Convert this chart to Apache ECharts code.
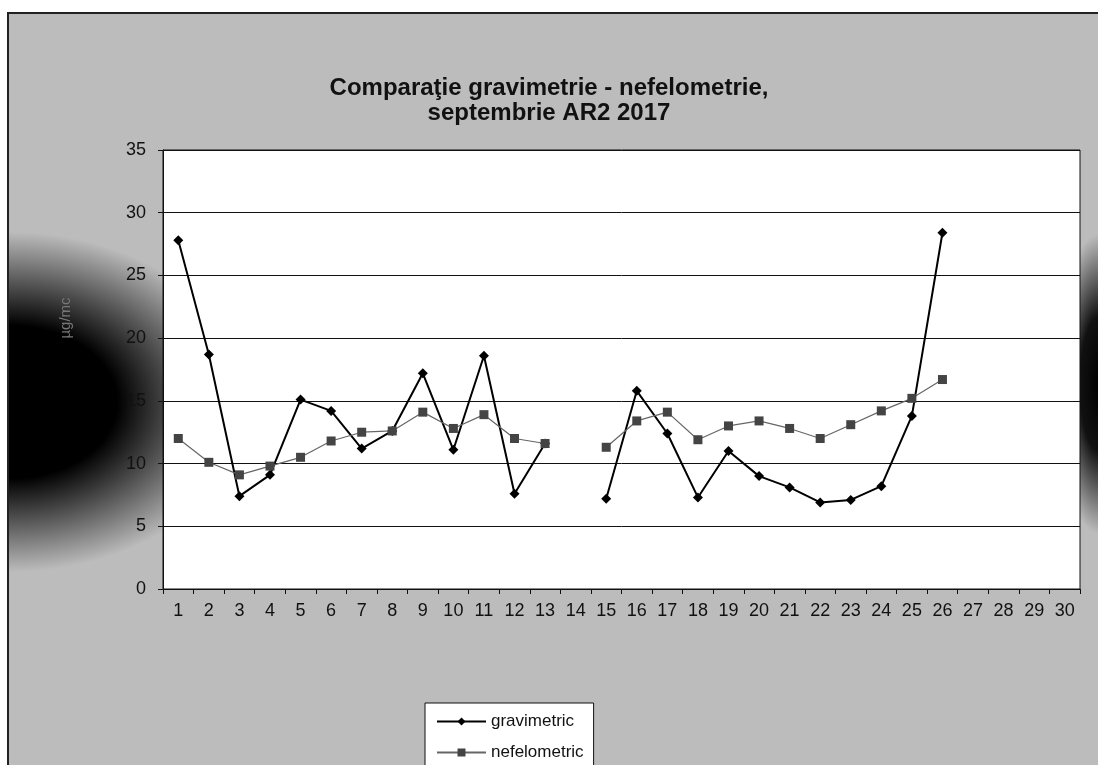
<!DOCTYPE html>
<html>
<head>
<meta charset="utf-8">
<script src="https://cdn.jsdelivr.net/npm/echarts@6/dist/echarts.min.js"></script>
<style>
  html, body { margin: 0; padding: 0; background: #fff; }
  #frame {
    position: absolute; left: 7px; top: 12px; width: 1100px; height: 760px;
    border-top: 2px solid #222; border-left: 2px solid #222;
    background:
      radial-gradient(ellipse 240px 170px at 0px 388px, #000 0%, #000 45%, #555 70%, rgba(185,185,185,0) 100%),
      radial-gradient(ellipse 45px 150px at 1091px 370px, #000 0%, #111 45%, rgba(185,185,185,0) 100%),
      #bcbcbc;
  }
  #chart { position: absolute; left: 0; top: 0; width: 1098px; height: 765px; }
</style>
</head>
<body>
<div id="frame"></div>
<div id="chart"></div>
<script>
// zilele lunii
const days = ['1','2','3','4','5','6','7','8','9','10','11','12','13','14','15',
  '16','17','18','19','20','21','22','23','24','25','26','27','28','29','30'];

// valori (µg/mc)
const gravimetric = [27.8, 18.7, 7.4, 9.1, 15.1, 14.2, 11.2, 12.6, 17.2, 11.1,
  18.6, 7.6, 11.6, null, 7.2, 15.8, 12.4, 7.3, 11.0, 9.0,
  8.1, 6.9, 7.1, 8.2, 13.8, 28.4, null, null, null, null];

const nefelometric = [12.0, 10.1, 9.1, 9.8, 10.5, 11.8, 12.5, 12.6, 14.1, 12.8,
  13.9, 12.0, 11.6, null, 11.3, 13.4, 14.1, 11.9, 13.0, 13.4,
  12.8, 12.0, 13.1, 14.2, 15.2, 16.7, null, null, null, null];

const chart = echarts.init(document.getElementById('chart'));

const option = {
  backgroundColor: 'transparent',
  animation: false,
  textStyle: { fontFamily: 'Liberation Sans, Arial, sans-serif' },
  title: {
    text: 'Comparaţie gravimetrie - nefelometrie,\nseptembrie AR2 2017',
    left: 'center',
    top: 71,
    textStyle: { fontSize: 24, fontWeight: 'bold', color: '#111', lineHeight: 25 }
  },
  graphic: [{
    type: 'text',
    x: 66, y: 318,
    rotation: Math.PI / 2,
    style: { text: 'µg/mc', fill: '#777', font: '15px Liberation Sans', align: 'center', verticalAlign: 'middle' }
  }],
  legend: {
    orient: 'vertical',
    left: 425,
    top: 703,
    height: 80,
    backgroundColor: '#fff',
    borderColor: '#111',
    borderWidth: 1,
    padding: [10, 10, 10, 11],
    itemGap: 14,
    itemWidth: 49,
    itemHeight: 10,
    textStyle: { fontSize: 17, color: '#111' },
    data: ['gravimetric', 'nefelometric']
  },
  grid: {
    show: true,
    left: 163, right: 18, top: 150, bottom: 176,
    backgroundColor: '#fff',
    borderColor: '#111',
    borderWidth: 1
  },
  xAxis: {
    type: 'category',
    data: days,
    boundaryGap: true,
    axisLine: { lineStyle: { color: '#111', width: 1 } },
    axisTick: { show: true, length: 5, lineStyle: { color: '#111' } },
    axisLabel: { fontSize: 18, color: '#111', margin: 13 },
    splitLine: { show: false }
  },
  yAxis: {
    type: 'value',
    min: 0,
    max: 35,
    interval: 5,
    axisLine: { show: true, lineStyle: { color: '#111', width: 1 } },
    axisTick: { show: true, length: 5, lineStyle: { color: '#111' } },
    axisLabel: { fontSize: 18, color: '#111', margin: 17 },
    splitLine: { lineStyle: { color: '#111', width: 1 } }
  },
  series: [
    {
      name: 'gravimetric',
      type: 'line',
      data: gravimetric,
      connectNulls: false,
      symbol: 'diamond',
      symbolSize: 10,
      itemStyle: { color: '#000' },
      lineStyle: { color: '#000', width: 2 }
    },
    {
      name: 'nefelometric',
      type: 'line',
      data: nefelometric,
      connectNulls: false,
      symbol: 'rect',
      symbolSize: 9,
      itemStyle: { color: '#444' },
      lineStyle: { color: '#666', width: 1.2 }
    }
  ]
};

chart.setOption(option);
</script>
</body>
</html>
